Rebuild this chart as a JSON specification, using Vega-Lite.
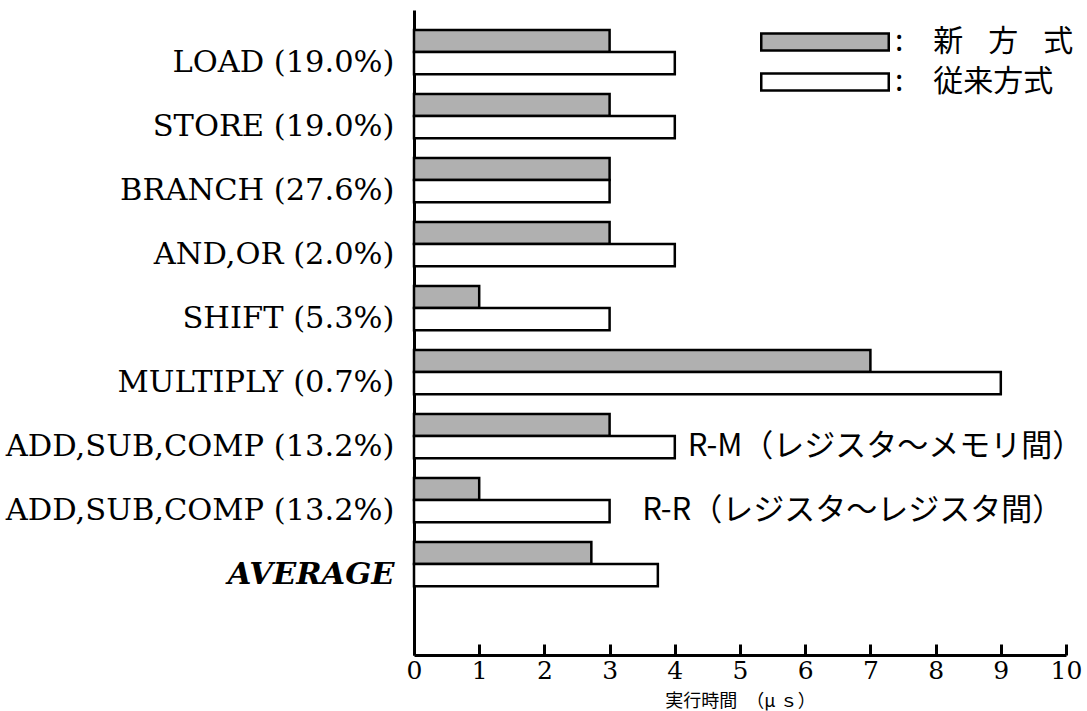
{
  "$schema": "https://vega.github.io/schema/vega-lite/v6.json",
  "autosize": {"type": "none"},
  "padding": {"left": 414, "top": 10, "right": 21, "bottom": 56},
  "width": 652,
  "height": 645,
  "background": "white",
  "config": {"view": {"stroke": null}},
  "datasets": {
    "bars": [
      {"cat": "LOAD (19.0%)", "series": "新方式", "value": 3},
      {"cat": "LOAD (19.0%)", "series": "従来方式", "value": 4},
      {"cat": "STORE (19.0%)", "series": "新方式", "value": 3},
      {"cat": "STORE (19.0%)", "series": "従来方式", "value": 4},
      {"cat": "BRANCH (27.6%)", "series": "新方式", "value": 3},
      {"cat": "BRANCH (27.6%)", "series": "従来方式", "value": 3},
      {"cat": "AND,OR (2.0%)", "series": "新方式", "value": 3},
      {"cat": "AND,OR (2.0%)", "series": "従来方式", "value": 4},
      {"cat": "SHIFT (5.3%)", "series": "新方式", "value": 1},
      {"cat": "SHIFT (5.3%)", "series": "従来方式", "value": 3},
      {"cat": "MULTIPLY (0.7%)", "series": "新方式", "value": 7},
      {"cat": "MULTIPLY (0.7%)", "series": "従来方式", "value": 9},
      {"cat": "ADD,SUB,COMP (13.2%)|RM", "series": "新方式", "value": 3},
      {"cat": "ADD,SUB,COMP (13.2%)|RM", "series": "従来方式", "value": 4},
      {"cat": "ADD,SUB,COMP (13.2%)|RR", "series": "新方式", "value": 1},
      {"cat": "ADD,SUB,COMP (13.2%)|RR", "series": "従来方式", "value": 3},
      {"cat": "AVERAGE", "series": "新方式", "value": 2.72},
      {"cat": "AVERAGE", "series": "従来方式", "value": 3.74}
    ],
    "notes": [
      {"cat": "ADD,SUB,COMP (13.2%)|RM", "series": "従来方式", "x": 4.2, "label": "R-M（レジスタ～メモリ間）"},
      {"cat": "ADD,SUB,COMP (13.2%)|RR", "series": "従来方式", "x": 3.5, "label": "R-R（レジスタ～レジスタ間）"}
    ]
  },
  "layer": [
    {
      "data": {"name": "bars"},
      "mark": {"type": "bar", "stroke": "black", "strokeWidth": 2.5},
      "encoding": {
        "y": {
          "field": "cat", "type": "nominal",
          "scale": {
            "domain": ["LOAD (19.0%)", "STORE (19.0%)", "BRANCH (27.6%)", "AND,OR (2.0%)", "SHIFT (5.3%)", "MULTIPLY (0.7%)", "ADD,SUB,COMP (13.2%)|RM", "ADD,SUB,COMP (13.2%)|RR", "AVERAGE"],
            "paddingInner": 0.31, "paddingOuter": 0.694, "align": 0.225
          },
          "axis": {
            "title": null, "ticks": false, "grid": false,
            "domainColor": "black", "domainWidth": 3,
            "labelFont": "DejaVu Serif", "labelFontSize": 30.5, "labelColor": "black",
            "labelPadding": 20, "labelLimit": 0, "labelOffset": 11,
            "labelExpr": "split(datum.value, '|')[0]",
            "labelFontWeight": {"condition": {"test": "datum.value == 'AVERAGE'", "value": "bold"}, "value": "normal"},
            "labelFontStyle": {"condition": {"test": "datum.value == 'AVERAGE'", "value": "italic"}, "value": "normal"}
          }
        },
        "yOffset": {
          "field": "series", "type": "nominal",
          "scale": {"domain": ["新方式", "従来方式"], "paddingInner": 0, "paddingOuter": 0}
        },
        "x": {
          "field": "value", "type": "quantitative",
          "scale": {"domain": [0, 10], "nice": false},
          "axis": {
            "values": [0, 1, 2, 3, 4, 5, 6, 7, 8, 9, 10],
            "format": "d",
            "grid": false, "ticks": true, "tickSize": -11, "tickWidth": 3, "tickColor": "black",
            "domainColor": "black", "domainWidth": 3,
            "labelFont": "DejaVu Serif", "labelFontSize": 25, "labelColor": "black",
            "labelPadding": 14, "labelFlush": false,
            "title": "実行時間　（μ ｓ）",
            "titleFont": "Noto Sans CJK JP", "titleFontSize": 18, "titleFontWeight": "normal",
            "titleColor": "black", "titleY": 37, "titleBaseline": "top"
          }
        },
        "fill": {
          "field": "series", "type": "nominal",
          "scale": {"domain": ["新方式", "従来方式"], "range": ["#b0b0b0", "#ffffff"]},
          "legend": {
            "orient": "none", "legendX": 396, "legendY": 17, "title": null,
            "symbolType": "M-7.5,-1H7.5V1H-7.5Z", "symbolSize": 289,
            "symbolStrokeColor": "black", "symbolStrokeWidth": 2.5, "symbolOpacity": 1,
            "labelFont": "Noto Sans CJK JP", "labelFontSize": 30, "labelColor": "black",
            "labelOffset": 55, "rowPadding": 10, "labelLimit": 0,
            "labelExpr": "datum.value == '新方式' ? ':\u2002\u2002新\u2002\u2004方\u2002\u2004式' : ':\u2002\u2002従来方式'"
          }
        }
      }
    },
    {
      "data": {"name": "notes"},
      "mark": {"type": "text", "align": "left", "baseline": "middle", "font": "Noto Sans CJK JP", "fontSize": 31, "color": "black"},
      "encoding": {
        "y": {"field": "cat", "type": "nominal"},
        "yOffset": {"field": "series", "type": "nominal"},
        "x": {"field": "x", "type": "quantitative"},
        "text": {"field": "label"}
      }
    }
  ]
}
